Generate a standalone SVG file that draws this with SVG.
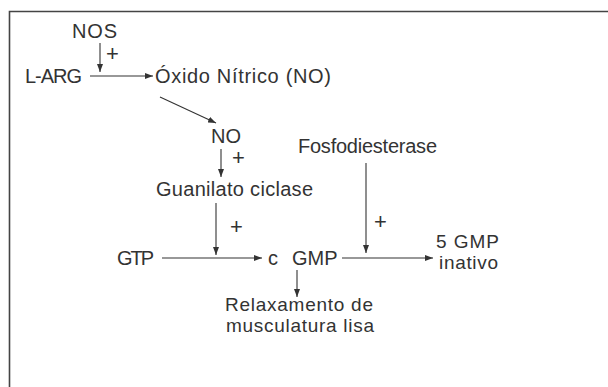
<svg xmlns="http://www.w3.org/2000/svg" width="608" height="387" viewBox="0 0 608 387">
<defs>
<marker id="ah" viewBox="0 0 8 6" refX="8" refY="3" markerWidth="8" markerHeight="6" markerUnits="userSpaceOnUse" orient="auto">
<path d="M0,0 L8,3 L0,6 Z" fill="#333"/>
</marker>
<style>
text{font-family:"Liberation Sans",Arial,sans-serif;font-size:20px;fill:#333}
.p{font-size:22px;font-weight:300}
.t{font-size:19px}
.c{stroke:#333;stroke-width:1.1;fill:none;marker-end:url(#ah)}
.f{stroke:#444;stroke-width:1.6;fill:none}
</style>
</defs>
<rect width="608" height="387" fill="#fff"/>
<path class="f" d="M9.5,387 V11.5 H608"/>
<g id="connectors">
<line class="c" x1="100" y1="43" x2="100" y2="72"/>
<line class="c" x1="90" y1="76" x2="153" y2="76"/>
<line class="c" x1="160" y1="97" x2="216" y2="123"/>
<line class="c" x1="221" y1="149" x2="221" y2="177"/>
<line class="c" x1="216" y1="203" x2="216" y2="255"/>
<line class="c" x1="162" y1="258" x2="262" y2="258"/>
<line class="c" x1="366" y1="163" x2="366" y2="253"/>
<line class="c" x1="342" y1="258" x2="433" y2="258"/>
<line class="c" x1="297" y1="270" x2="297" y2="297"/>
</g>
<g id="nos"><text x="72" y="38" textLength="45">NOS</text></g>
<g id="plus1"><text class="p" x="106" y="61">+</text></g>
<g id="larg"><text x="25" y="83" textLength="57">L-ARG</text></g>
<g id="oxido"><text x="155" y="83" textLength="176">Óxido Nítrico (NO)</text></g>
<g id="no"><text x="211" y="143">NO</text></g>
<g id="plus2"><text class="p" x="232" y="165">+</text></g>
<g id="guanilato"><text x="156" y="196" textLength="157">Guanilato ciclase</text></g>
<g id="plus3"><text class="p" x="230" y="234">+</text></g>
<g id="fosfo"><text x="298" y="153" textLength="139">Fosfodiesterase</text></g>
<g id="plus4"><text class="p" x="374" y="229">+</text></g>
<g id="gtp"><text x="117" y="265" textLength="37">GTP</text></g>
<g id="cgmp"><text x="268" y="265">c</text><text x="292" y="265">GMP</text></g>
<g id="gmp5"><text class="t" x="436" y="248" textLength="63">5 GMP</text><text class="t" x="439" y="269" textLength="59">inativo</text></g>
<g id="relax"><text class="t" x="225" y="311" textLength="148">Relaxamento de</text><text class="t" x="226" y="332" textLength="148">musculatura lisa</text></g>
</svg>
